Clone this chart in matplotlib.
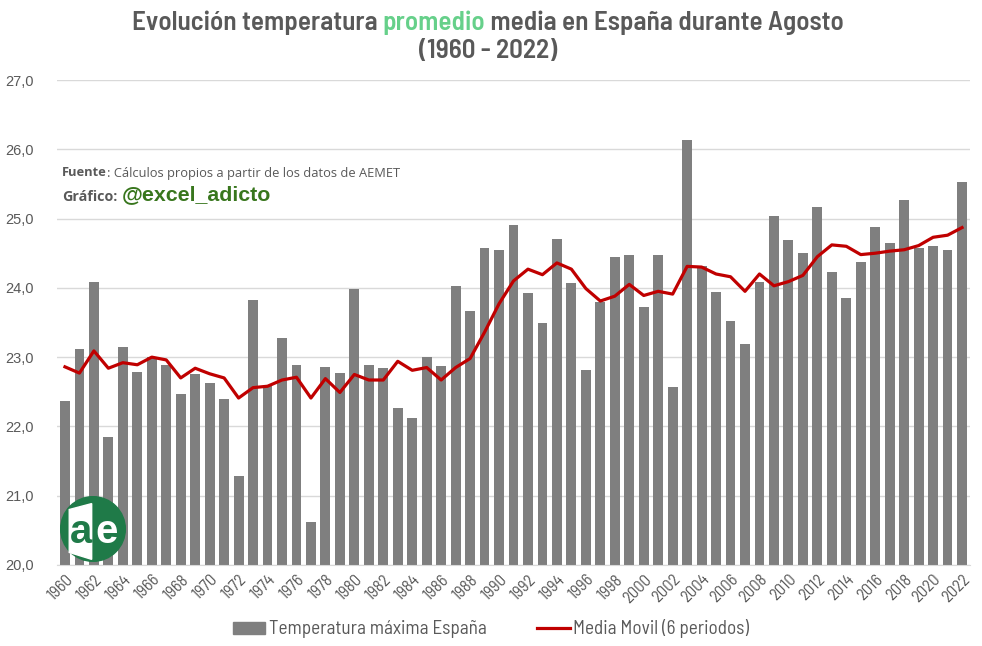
import matplotlib
matplotlib.use("Agg")
import matplotlib.pyplot as plt
from matplotlib import font_manager
from matplotlib.patches import Circle, Patch, Polygon
from matplotlib.lines import Line2D
from matplotlib.ticker import FuncFormatter

years = list(range(1960, 2023))
temp = [22.37, 23.12, 24.08, 21.85, 23.14, 22.79, 23.00, 22.89, 22.47, 22.76,
        22.63, 22.40, 21.29, 23.83, 22.58, 23.28, 22.88, 20.62, 22.86, 22.77,
        23.99, 22.88, 22.85, 22.27, 22.12, 23.00, 22.87, 24.02, 23.66, 24.58,
        24.54, 24.91, 23.93, 23.50, 24.71, 24.07, 22.82, 23.80, 24.45, 24.47,
        23.72, 24.48, 22.57, 26.13, 24.32, 23.94, 23.52, 23.19, 24.09, 25.04,
        24.69, 24.50, 25.16, 24.23, 23.86, 24.38, 24.88, 24.65, 25.27, 24.57,
        24.61, 24.55, 25.53]
media_movil = [22.86, 22.77, 23.09, 22.84, 22.92, 22.89, 23.00, 22.96, 22.70, 22.84,
               22.76, 22.70, 22.41, 22.56, 22.58, 22.67, 22.71, 22.41, 22.69, 22.49,
               22.75, 22.67, 22.67, 22.94, 22.81, 22.85, 22.67, 22.85, 22.98, 23.36,
               23.77, 24.10, 24.27, 24.19, 24.36, 24.27, 23.99, 23.81, 23.88, 24.05,
               23.89, 23.95, 23.91, 24.31, 24.30, 24.20, 24.16, 23.95, 24.20, 24.03,
               24.09, 24.18, 24.45, 24.62, 24.60, 24.48, 24.50, 24.53, 24.55, 24.61,
               24.73, 24.76, 24.87]
tick_years = years[::2]
series_names = ["Temperatura máxima España", "Media Movil (6 periodos)"]

installed = {f.name for f in font_manager.fontManager.ttflist}


def pick(*names):
    for n in names:
        if n in installed:
            return n
    return 'DejaVu Sans'


cond = pick('Barlow Semi Condensed', 'Barlow Condensed', 'Saira SemiCondensed')
arial = pick('Liberation Sans', 'Arimo', 'DejaVu Sans')
segoe = pick('Open Sans', 'Noto Sans', 'DejaVu Sans')

GRAY_TXT = '#595959'
BAR = '#7f7f7f'
RED = '#c00000'
W, H = 982, 646

fig = plt.figure(figsize=(9.82, 6.46), dpi=100)
ax = fig.add_axes([57 / W, 1 - 565 / H, 913 / W, 485 / H])
renderer = fig.canvas.get_renderer()


def fit(text, target, **kw):
    # font size that makes the text about target px wide
    t = fig.text(0, 0, text, fontsize=20, **kw)
    w = t.get_window_extent(renderer).width
    t.remove()
    return 20 * target / w


ax.bar(years, temp, width=0.68, color=BAR, zorder=2)
ax.plot(years, media_movil, color=RED, linewidth=2.3, zorder=3)

ax.set_ylim(20, 27)
ax.set_xlim(1959.45, 2022.55)
ax.set_yticks(range(20, 28))
ax.yaxis.set_major_formatter(FuncFormatter(lambda v, p: f"{v:.1f}".replace('.', ',')))
ax.set_xticks(tick_years)
ax.set_xticklabels([str(y) for y in tick_years], rotation=45, ha='right',
                   rotation_mode='anchor', fontsize=12, color=GRAY_TXT, family=cond)
for lab in ax.get_yticklabels():
    lab.set_family(arial)
    lab.set_fontsize(10.5)
    lab.set_color(GRAY_TXT)
ax.tick_params(axis='both', length=0)
ax.tick_params(axis='y', pad=17)
ax.tick_params(axis='x', pad=5)
ax.grid(axis='y', color='#d9d9d9', linewidth=1, zorder=0)
for s in ['top', 'right', 'left']:
    ax.spines[s].set_visible(False)
ax.spines['bottom'].set_color('#d9d9d9')

# title with coloured word
pieces = [("Evolución temperatura ", GRAY_TXT), ("promedio", '#66d08a'),
          (" media en España durante Agosto", GRAY_TXT)]
title_kw = dict(family=cond, fontweight=600)
tsize = fit("".join(p[0] for p in pieces), 710, **title_kw)
texts = [fig.text(0, 1 - 23 / H, s, color=c, fontsize=tsize, va='center', ha='left', **title_kw)
         for s, c in pieces]
widths = [t.get_window_extent(renderer).width for t in texts]
x0 = 488 - sum(widths) / 2
for t, w in zip(texts, widths):
    t.set_x(x0 / W)
    x0 += w
fig.text(488 / W, 1 - 51 / H, "(1960 - 2022)", color=GRAY_TXT, fontsize=tsize,
         ha='center', va='center', **title_kw)

# source text
ssize = fit("Fuente: Cálculos propios a partir de los datos de AEMET", 333, family=segoe)
t1 = fig.text(62 / W, 1 - 173 / H, "Fuente", color=GRAY_TXT, fontsize=ssize,
              fontweight='bold', family=segoe, va='center')
w1 = t1.get_window_extent(renderer).width
fig.text((62 + w1) / W, 1 - 173 / H, ": Cálculos propios a partir de los datos de AEMET",
         color=GRAY_TXT, fontsize=ssize, family=segoe, va='center')
t2 = fig.text(62 / W, 1 - 197 / H, "Gráfico:", color=GRAY_TXT,
              fontsize=fit("Gráfico:", 55, family=segoe, fontweight='bold'),
              fontweight='bold', family=segoe, va='center')
w2 = t2.get_window_extent(renderer).width
fig.text((62 + w2 + 4) / W, 1 - 195 / H, "@excel_adicto", color='#38761d',
         fontsize=fit("@excel_adicto", 149, family=arial, fontweight='bold'),
         fontweight='bold', family=arial, va='center')

# logo
cx, cy = 93 / W, 1 - 529 / H
logo_ax = fig.add_axes([cx - 33 / W, cy - 33 / H, 66 / W, 66 / H])
logo_ax.set_xlim(-1, 1)
logo_ax.set_ylim(-1, 1)
logo_ax.axis('off')
logo_ax.add_patch(Circle((0, 0), 0.98, color='#1f7a48'))
logo_ax.add_patch(Polygon([(-0.72, 0.59), (-0.04, 0.77), (-0.04, -0.92), (-0.72, -0.71)],
                          closed=True, color='white'))
logo_ax.text(-0.37, -0.1, "a", color='#1f7a48', fontsize=29, fontweight='bold',
             ha='center', va='center', family=arial)
logo_ax.text(0.4, -0.1, "e", color='white', fontsize=29, fontweight='bold',
             ha='center', va='center', family=arial)

# legend
lsize = fit(series_names[0], 218, family=cond)
handles = [Patch(color=BAR), Line2D([0], [0], color=RED, linewidth=2.3)]
leg = fig.legend(handles, series_names, loc='center', bbox_to_anchor=(491 / W, 1 - 629 / H),
                 ncol=2, frameon=False, prop={'family': cond, 'size': lsize},
                 handlelength=1.7, handleheight=0.6, handletextpad=0.2, columnspacing=2.6)
for t in leg.get_texts():
    t.set_color(GRAY_TXT)

fig.savefig("out.png", dpi=100)
